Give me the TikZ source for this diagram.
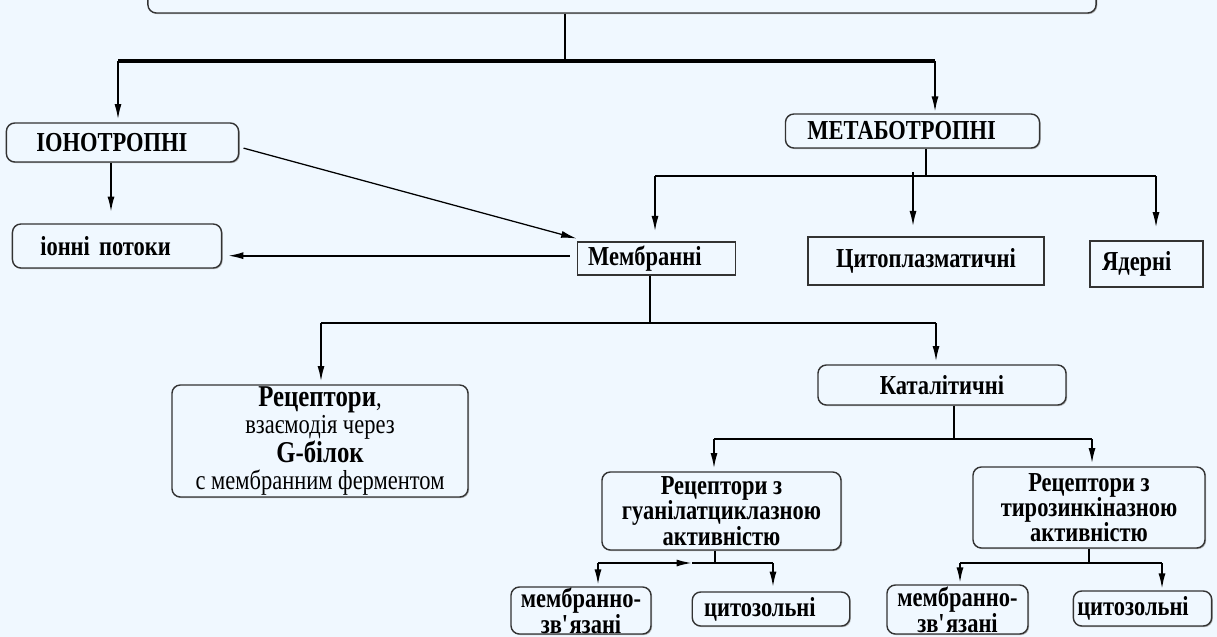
\documentclass[tikz,border=0pt]{standalone}
\usepackage{fontspec}
\setmainfont{Liberation Serif}[FakeStretch=0.82]
\usetikzlibrary{arrows.meta,shadows}
\definecolor{paper}{HTML}{F0F8FF}
\definecolor{boxline}{HTML}{333333}

\begin{document}
\begin{tikzpicture}[x=0.025cm, y=-0.025cm,
    font=\fontsize{19.5}{18}\selectfont\bfseries,
    roundbox/.style={draw=boxline, line width=1pt, rounded corners=6pt, fill=paper,
      align=center, inner sep=0pt,
      drop shadow={shadow xshift=0.8pt, shadow yshift=-0.8pt, fill=black!40, opacity=0.7}},
    squarebox/.style={draw=boxline, line width=1pt, fill=paper, align=center, inner sep=0pt},
    lefttext/.style 2 args={align=left, text width=#1, inner xsep=#2},
    conn/.style={line width=1.3pt},
    arr/.style={conn, -{Latex[length=11pt,width=5pt]}}
    ]

    \clip (0,0) rectangle (1217,637);
    \fill[paper] (0,0) rectangle (1217,637);

    \node[roundbox, minimum width=23.7cm, minimum height=1.325cm] (top) at (622,-13.5) {};
    \node[roundbox, lefttext={122.6pt}{21.3pt}, minimum height=0.975cm] (ion) at (122.5,142.5) {ІОНОТРОПНІ};
    \node[roundbox, lefttext={109.1pt}{19.8pt}, minimum height=1.1cm] (ionflow) at (117,246) {іонні потоки};
    \node[roundbox, lefttext={149.5pt}{15.6pt}, minimum height=0.85cm] (meta) at (912.5,131) {МЕТАБОТРОПНІ};
    \node[squarebox, lefttext={97.1pt}{7.8pt}, minimum height=0.825cm] (memb) at (656.5,258.5) {Мембранні};
    \node[squarebox, minimum width=5.9cm, minimum height=1.2cm] (cyto) at (926,261) {Цитоплазматичні};
    \node[squarebox, lefttext={63.1pt}{8.5pt}, minimum height=1.15cm] (nucl) at (1146.5,264) {Ядерні};
    \node[roundbox, minimum width=7.4cm, minimum height=2.8cm,
      font=\fontsize{19.5}{19.5}\selectfont] (gprot) at (320,441)
      {{\fontsize{21.5}{19.5}\selectfont\bfseries Рецептори},\\
       взаємодія через\\
       {\fontsize{21.5}{19.5}\selectfont\bfseries G-білок}\\
       с мембранним ферментом};
    \node[roundbox, minimum width=6.2cm, minimum height=1cm] (catal) at (942,385) {Каталітичні};
    \node[roundbox, minimum width=5.975cm, minimum height=1.95cm] (guan) at (721.5,511)
      {Рецептори з\\ гуанілатциклазною\\ активністю};
    \node[roundbox, minimum width=5.8cm, minimum height=2.025cm] (tyro) at (1089,507.5)
      {Рецептори з\\ тирозинкіназною\\ активністю};
    \node[roundbox, minimum width=3.5cm, minimum height=1.175cm,
      font=\fontsize{19.5}{15}\selectfont\bfseries] (mz1) at (581,610.5)
      {мембранно-\\ зв\textquotesingle язані};
    \node[roundbox, lefttext={95pt}{8.5pt}, minimum height=0.85cm] (cz1) at (771,609) {цитозольні};
    \node[roundbox, minimum width=3.525cm, minimum height=1.225cm,
      font=\fontsize{19.5}{15}\selectfont\bfseries] (mz2) at (957.5,609.5)
      {мембранно-\\ зв\textquotesingle язані};
    \node[roundbox, lefttext={92.8pt}{2.8pt}, minimum height=0.875cm] (cz2) at (1142.5,608.5) {цитозольні};

    \coordinate (b0) at (565,61);
    \coordinate (b0l) at (118,61);
    \coordinate (b0r) at (935,61);
    \draw[conn] (top.south -| b0) -- (b0);
    \draw[conn, line width=2.2pt] (b0l) -- (b0r);
    \draw[arr, shorten >=2pt] (b0l) -- (b0l |- ion.north);
    \draw[arr, shorten >=1pt] (b0r) -- (b0r |- meta.north);

    \coordinate (i1) at (111,0);
    \draw[arr, shorten >=8pt] (ion.south -| i1) -- (ionflow.north -| i1);
    \draw[line width=0.9pt, -{Latex[length=11pt,width=5pt]}]
      ([xshift=3pt,yshift=-4pt]ion.east) -- ([yshift=2pt]memb.north west);
    \draw[arr, shorten <=5pt, shorten >=4pt] ([yshift=2pt]memb.west) -- ([yshift=2pt]memb.west -| ionflow.east);

    \coordinate (b1) at (926,176);
    \coordinate (b1l) at (655,176);
    \coordinate (b1r) at (1156,176);
    \coordinate (b1m) at (913,172);
    \draw[conn] (meta.south -| b1) -- (b1);
    \draw[conn] (b1l) -- (b1r);
    \draw[arr, shorten >=7pt] (b1l) -- (b1l |- memb.north);
    \draw[arr, shorten >=7pt] (b1m) -- (b1m |- cyto.north);
    \draw[arr, shorten >=9pt] (b1r) -- (b1r |- nucl.north);

    \coordinate (b2) at (650,323);
    \coordinate (b2l) at (321,323);
    \coordinate (b2r) at (936,323);
    \draw[conn] (memb.south -| b2) -- (b2);
    \draw[conn] (b2l) -- (b2r);
    \draw[arr, shorten >=2pt] (b2l) -- (b2l |- gprot.north);
    \draw[arr, shorten >=2pt] (b2r) -- (b2r |- catal.north);

    \coordinate (b3) at (954,439);
    \coordinate (b3l) at (714,439);
    \coordinate (b3r) at (1092,439);
    \draw[conn] (catal.south -| b3) -- (b3);
    \draw[conn] (b3l) -- (b3r);
    \draw[arr, shorten >=2pt] (b3l) -- (b3l |- guan.north);
    \draw[arr, shorten >=2pt] (b3r) -- (b3r |- tyro.north);

    \coordinate (b4) at (715,563);
    \coordinate (b4l) at (598,563);
    \coordinate (b4m) at (692,563);
    \coordinate (b4r) at (773,563);
    \draw[conn] (guan.south -| b4) -- (b4);
    \draw[arr] (b4l) -- (b4m);
    \draw[conn] (b4m) -- (b4r);
    \draw[arr, shorten >=1pt] (b4l) -- (b4l |- mz1.north);
    \draw[arr, shorten >=3pt] (b4r) -- (b4r |- cz1.north);

    \coordinate (b5) at (1089,563);
    \coordinate (b5l) at (960,563);
    \coordinate (b5r) at (1162,563);
    \draw[conn] (tyro.south -| b5) -- (b5);
    \draw[conn] (b5l) -- (b5r);
    \draw[arr, shorten >=1pt] (b5l) -- (b5l |- mz2.north);
    \draw[arr, shorten >=1pt] (b5r) -- (b5r |- cz2.north);
\end{tikzpicture}
\end{document}
